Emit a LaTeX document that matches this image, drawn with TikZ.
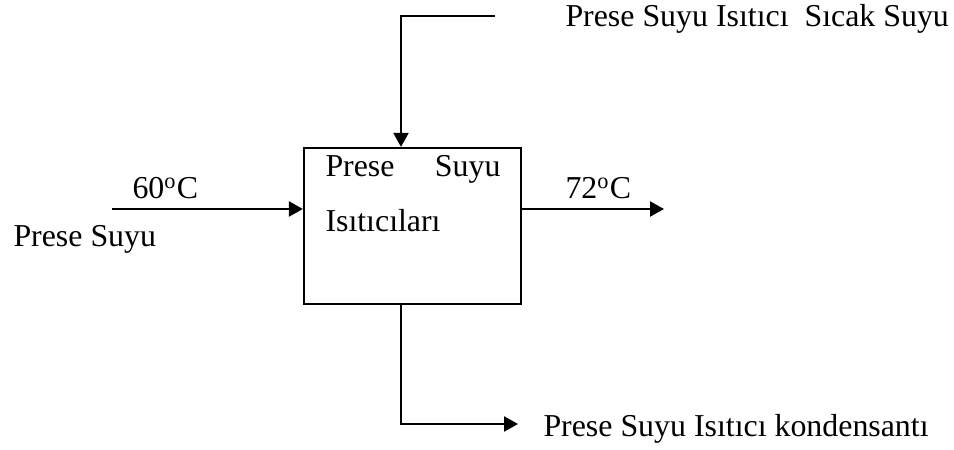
\documentclass[tikz,border=0pt]{standalone}
\usepackage{fontspec}
\setmainfont{Liberation Serif}
\usetikzlibrary{positioning,arrows.meta}

\begin{document}
\begin{tikzpicture}[x=0.4pt, y=-0.4pt,
      isitici/.style={draw, line width=0.9pt, minimum width=86.8pt,
                      minimum height=62.4pt, inner sep=0pt},
      hat/.style={line width=0.9pt},
      akis/.style={hat, -{Triangle[length=5.6pt,width=6pt]}},
      etiket/.style={anchor=base west, inner sep=0pt,
                     font=\fontsize{12.75}{15}\selectfont}]
    \useasboundingbox (0,0) rectangle (954,450);
    \node[isitici] (heater) at (412.5,226) {};
    \node[etiket, text width=70pt, align=left] (heatertext) at (325,177)
         {Prese\hfill Suyu};
    \node[etiket] (heatertext2) at (325,232) {Isıtıcıları};

    \coordinate (pressin)  at (112,209);
    \coordinate (hotout)   at (664,209);
    \coordinate (hotin)    at (495,16);
    \coordinate (topbend)  at (401,16);
    \coordinate (botbend)  at (401,424);
    \coordinate (condout)  at (518,424);

    \draw[akis] (pressin) -- (heater.west |- pressin);
    \draw[akis] (heater.east |- pressin) -- (hotout);
    \draw[akis] (hotin) -- (topbend) -- (topbend |- heater.north);
    \draw[akis] (topbend |- heater.south) -- (botbend) -- (condout);

    \node[etiket] (tin)   at (132,199) {60\textsuperscript{o}C};
    \node[etiket] (tout)  at (565,199) {72\textsuperscript{o}C};
    \node[etiket] (pres)  at (13,247)  {Prese Suyu};
    \node[etiket] (sicak) at (565,27)  {Prese Suyu Isıtıcı\ \ Sıcak Suyu};
    \node[etiket] (kond)  at (543,437) {Prese Suyu Isıtıcı kondensantı};
  \end{tikzpicture}
\end{document}
